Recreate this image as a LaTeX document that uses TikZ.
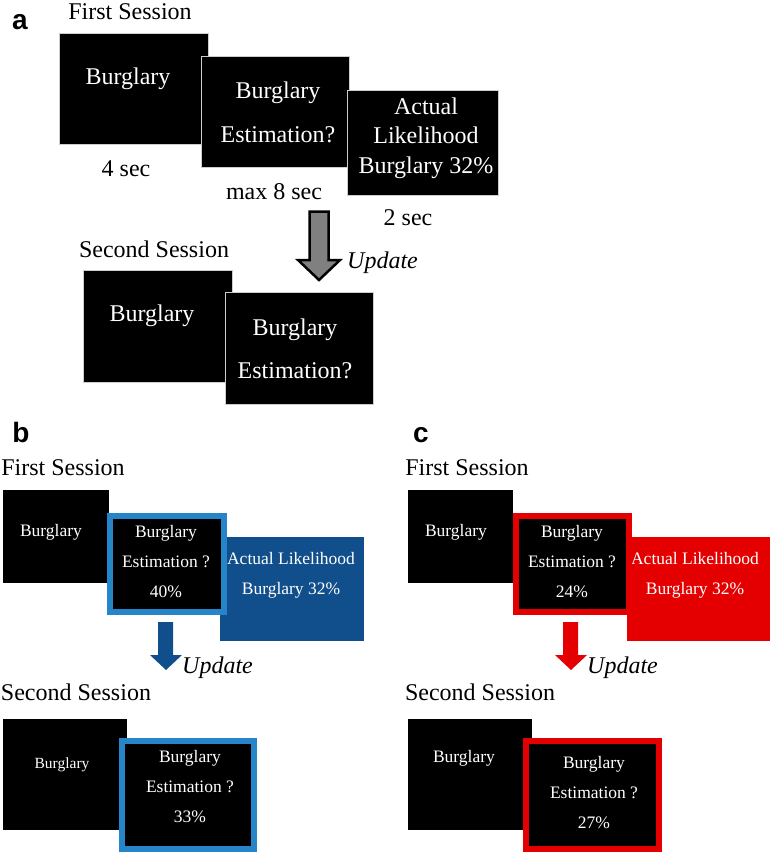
\documentclass[tikz,border=0pt]{standalone}
\usepackage{fontspec}
\setmainfont{Liberation Serif}
\newfontfamily\lblfont{Liberation Sans}
\definecolor{lblue}{RGB}{38,132,200}
\definecolor{dblue}{RGB}{17,79,140}
\definecolor{bred}{RGB}{228,0,0}
\definecolor{agray}{RGB}{128,128,128}
\begin{document}
\begin{tikzpicture}[x=1pt,y=-1pt,
  blk/.style={fill=black, draw=gray!40, line width=0.8pt, inner sep=0pt, outer sep=0pt},
  plainbox/.style={fill=black, inner sep=0pt, outer sep=0pt},
  colbox/.style={fill=#1, inner sep=0pt, outer sep=0pt},
  framed/.style={fill=black, draw=#1, line width=6pt, inner sep=0pt, outer sep=0pt},
  wt/.style={text=white, align=center, inner sep=0pt},
  bt/.style={text=black, inner sep=0pt},
  panel/.style={inner sep=0pt, anchor=base, font=\lblfont\bfseries\fontsize{28}{30}\selectfont},
  f24/.style={font=\fontsize{24}{29}\selectfont},
  upd/.style={inner sep=0pt, anchor=base west, font=\fontsize{24}{29}\selectfont\itshape}
]
\useasboundingbox (0,0) rectangle (772,853);

% ---------------- panel a ----------------
\node[panel] (la) at (20,30) {a};
\node[bt, f24, anchor=base] (a1s) at (130,20) {First Session};
\node[blk, minimum width=149pt, minimum height=111pt] (A1) at (133.5,88.5) {};
\node[wt, f24] (A1t) at (128,79) {Burglary};
\node[blk, minimum width=148pt, minimum height=111pt] (A2) at (275,111.5) {};
\node[wt, font=\fontsize{24}{44}\selectfont] (A2t) at (278,112) {Burglary\\Estimation?};
\node[blk, minimum width=151pt, minimum height=105pt] (A3) at (422.5,142.5) {};
\node[wt, font=\fontsize{24}{29.5}\selectfont] (A3t) at (426,138) {Actual\\Likelihood\\Burglary 32\%};
\node[bt, f24, anchor=base] (a4s) at (126,177) {4 sec};
\node[bt, f24, anchor=base] (a8s) at (274,200) {max 8 sec};
\node[bt, f24, anchor=base] (a2s) at (408,225) {2 sec};
\draw[fill=agray, line width=2.5pt, line join=miter]
  (309.5,211.5) -- (328.5,211.5) -- (328.5,260) -- (340,260) -- (319,280)
  -- (298,260) -- (309.5,260) -- cycle;
\node[upd] (aup) at (347,268) {Update};
\node[bt, f24, anchor=base] (a2nd) at (154,257) {Second Session};
\node[blk, minimum width=149pt, minimum height=112pt] (A4) at (157.5,326) {};
\node[wt, f24] (A4t) at (152,316) {Burglary};
\node[blk, minimum width=148pt, minimum height=112pt] (A5) at (299,348) {};
\node[wt, font=\fontsize{24}{43}\selectfont] (A5t) at (295,348.5) {Burglary\\Estimation?};

% ---------------- panel b ----------------
\node[panel] (lb) at (21,442) {b};
\node[bt, f24, anchor=base] (b1s) at (63,475) {First Session};
\node[plainbox, minimum width=106pt, minimum height=93pt] (B1) at (56,536.5) {};
\node[wt, font=\fontsize{17.5}{30}\selectfont] (B1t) at (51,532) {Burglary};
\node[colbox=dblue, minimum width=144pt, minimum height=104pt] (B3) at (292,589) {};
\node[wt, font=\fontsize{17.5}{30}\selectfont] (B3t) at (291,575) {Actual Likelihood\\Burglary 32\%};
\node[framed=lblue, minimum width=114pt, minimum height=96pt] (B2) at (167,564) {};
\node[wt, font=\fontsize{17.5}{30}\selectfont] (B2t) at (166,562) {Burglary\\Estimation ?\\40\%};
\fill[dblue] (158,622) -- (173,622) -- (173,655) -- (182,655) -- (166,670)
  -- (150,655) -- (158,655) -- cycle;
\node[upd] (bup) at (182,673) {Update};
\node[bt, f24, anchor=base] (b2nd) at (76,700) {Second Session};
\node[plainbox, minimum width=124pt, minimum height=111pt] (B4) at (65,774.5) {};
\node[wt, font=\fontsize{15.5}{30}\selectfont] (B4t) at (62,765) {Burglary};
\node[framed=lblue, minimum width=132pt, minimum height=108pt] (B5) at (188,795) {};
\node[wt, font=\fontsize{17.5}{30}\selectfont] (B5t) at (190,787) {Burglary\\Estimation ?\\33\%};

% ---------------- panel c ----------------
\node[panel] (lc) at (421,442) {c};
\node[bt, f24, anchor=base] (c1s) at (467,475) {First Session};
\node[plainbox, minimum width=105pt, minimum height=93pt] (C1) at (460.5,536.5) {};
\node[wt, font=\fontsize{17.5}{30}\selectfont] (C1t) at (456,532) {Burglary};
\node[colbox=bred, minimum width=143pt, minimum height=104pt] (C3) at (698.5,589) {};
\node[wt, font=\fontsize{17.5}{30}\selectfont] (C3t) at (695,575) {Actual Likelihood\\Burglary 32\%};
\node[framed=bred, minimum width=113pt, minimum height=96pt] (C2) at (572.5,564) {};
\node[wt, font=\fontsize{17.5}{30}\selectfont] (C2t) at (572,562) {Burglary\\Estimation ?\\24\%};
\fill[bred] (563,622) -- (578,622) -- (578,655) -- (587,655) -- (571,670)
  -- (555,655) -- (563,655) -- cycle;
\node[upd] (cup) at (587,673) {Update};
\node[bt, f24, anchor=base] (c2nd) at (480,700) {Second Session};
\node[plainbox, minimum width=124pt, minimum height=111pt] (C4) at (470,774.5) {};
\node[wt, font=\fontsize{17.5}{30}\selectfont] (C4t) at (464,758) {Burglary};
\node[framed=bred, minimum width=133pt, minimum height=108pt] (C5) at (592.5,795) {};
\node[wt, font=\fontsize{17.5}{30}\selectfont] (C5t) at (594,793) {Burglary\\Estimation ?\\27\%};
\end{tikzpicture}
\end{document}
